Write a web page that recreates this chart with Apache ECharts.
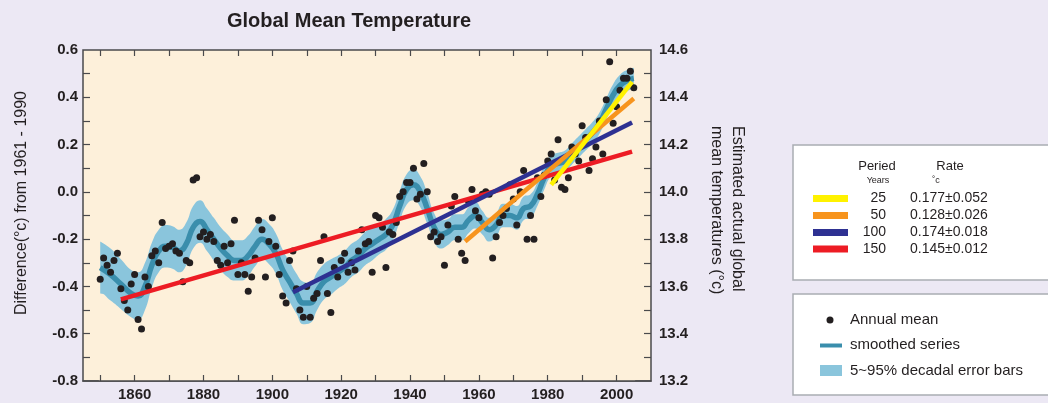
<!DOCTYPE html>
<html>
<head>
<meta charset="utf-8">
<script src="https://cdn.jsdelivr.net/npm/echarts@6/dist/echarts.min.js"></script>
<style>
html,body{margin:0;padding:0;background:#ece8f4;}
#c{width:1048px;height:403px;}
</style>
</head>
<body>
<div id="c"></div>
<script>
// ---- DATA ----
const firstYear = 1850;
const anomalies = [
 -0.37,-0.28,-0.31,-0.34,-0.29,-0.26,-0.41,-0.46,-0.50,-0.39,
 -0.35,-0.54,-0.58,-0.36,-0.40,-0.27,-0.25,-0.30,-0.13,-0.24,
 -0.23,-0.22,-0.25,-0.26,-0.38,-0.29,-0.30, 0.05, 0.06,-0.19,
 -0.17,-0.20,-0.18,-0.21,-0.29,-0.31,-0.23,-0.30,-0.22,-0.12,
 -0.35,-0.30,-0.35,-0.42,-0.36,-0.28,-0.12,-0.16,-0.36,-0.21,
 -0.11,-0.23,-0.35,-0.44,-0.47,-0.29,-0.25,-0.41,-0.50,-0.53,
 -0.40,-0.53,-0.45,-0.43,-0.29,-0.19,-0.43,-0.51,-0.32,-0.36,
 -0.29,-0.26,-0.34,-0.30,-0.33,-0.25,-0.16,-0.22,-0.21,-0.34,
 -0.10,-0.11,-0.15,-0.32,-0.17,-0.18,-0.13,-0.02, 0.00, 0.04,
  0.04, 0.10,-0.03,-0.01, 0.12, 0.00,-0.19,-0.17,-0.21,-0.19,
 -0.31,-0.14,-0.06,-0.02,-0.20,-0.26,-0.29,-0.04, 0.01,-0.08,
 -0.11,-0.01, 0.00,-0.01,-0.28,-0.19,-0.13,-0.10,-0.07, 0.03,
 -0.03,-0.14, 0.00, 0.09,-0.20,-0.10,-0.20, 0.06,-0.02, 0.07,
  0.13, 0.16, 0.05, 0.22, 0.02, 0.01, 0.06, 0.19, 0.16, 0.13,
  0.28, 0.23, 0.09, 0.14, 0.19, 0.30, 0.16, 0.39, 0.55, 0.29,
  0.36, 0.43, 0.48, 0.48, 0.51, 0.44
];
const smoothYears = [1850,1853,1856,1859,1861,1863,1865,1867,1869,1871,1873,1875,1877,1879,1881,1883,1885,1887,1889,1891,1893,1895,1897,1899,1901,1903,1905,1907,1909,1911,1913,1915,1917,1919,1921,1923,1925,1927,1929,1931,1933,1935,1937,1939,1941,1943,1945,1947,1949,1951,1953,1955,1957,1959,1961,1963,1965,1967,1969,1971,1973,1975,1977,1979,1981,1983,1985,1987,1989,1991,1993,1995,1997,1999,2001,2003,2005];
const smoothValues = [-0.32,-0.35,-0.39,-0.43,-0.44,-0.40,-0.31,-0.25,-0.23,-0.235,-0.25,-0.22,-0.15,-0.125,-0.16,-0.20,-0.24,-0.27,-0.29,-0.29,-0.27,-0.23,-0.20,-0.22,-0.26,-0.33,-0.38,-0.43,-0.47,-0.47,-0.42,-0.38,-0.36,-0.34,-0.32,-0.29,-0.27,-0.24,-0.22,-0.20,-0.18,-0.14,-0.06,0.01,0.03,0.00,-0.07,-0.15,-0.18,-0.17,-0.15,-0.15,-0.12,-0.10,-0.13,-0.16,-0.14,-0.10,-0.10,-0.11,-0.07,-0.06,-0.01,0.06,0.11,0.12,0.13,0.16,0.19,0.22,0.25,0.29,0.35,0.41,0.45,0.47,0.48];
const errorHalfWidth = [0.11,0.11,0.105,0.10,0.10,0.10,0.095,0.09,0.09,0.09,0.09,0.09,0.09,0.09,0.09,0.09,0.09,0.09,0.085,0.085,0.085,0.085,0.085,0.085,0.085,0.085,0.085,0.085,0.09,0.085,0.08,0.075,0.075,0.07,0.07,0.07,0.07,0.07,0.07,0.065,0.065,0.065,0.065,0.065,0.065,0.065,0.065,0.06,0.06,0.055,0.055,0.055,0.055,0.055,0.05,0.05,0.05,0.05,0.05,0.05,0.05,0.05,0.05,0.05,0.045,0.045,0.045,0.045,0.045,0.045,0.045,0.045,0.045,0.045,0.045,0.045,0.045];

const trendNames = ['25','50','100','150'];
const trendRates = ['0.177\u00B10.052','0.128\u00B10.026','0.174\u00B10.018','0.145\u00B10.012'];
const trendStartYear = [1981, 1956, 1906, 1856];
const trendEndYear = [2004.5, 2005, 2004.5, 2004.5];
const trendStartValue = [0.03, -0.21, -0.425, -0.455];
const trendEndValue = [0.465, 0.395, 0.293, 0.17];
const trendColors = ['#fff200','#f7941d','#2e3192','#ed1c24'];

const xTickValues = [1850,1860,1870,1880,1890,1900,1910,1920,1930,1940,1950,1960,1970,1980,1990,2000];
const xLabelValues = [1860,1880,1900,1920,1940,1960,1980,2000];
const yLeftLabels = [-0.8,-0.6,-0.4,-0.2,0.0,0.2,0.4,0.6];
const yLeftTicks = [-0.7,-0.6,-0.5,-0.4,-0.3,-0.2,-0.1,0.0,0.1,0.2,0.3,0.4,0.5];
const yRightLabels = [13.2,13.4,13.6,13.8,14.0,14.2,14.4,14.6];
const yRightTicks = [13.3,13.4,13.5,13.6,13.7,13.8,13.9,14.0,14.1,14.2,14.3,14.4,14.5];

// ---- STYLE ----
const FONT = '"Liberation Sans", Arial, Helvetica, sans-serif';
const INK = '#231f20';
const BAND = '#8ac5dc';
const SMOOTH = '#3a8eac';
const PLOT_BG = '#fdf0da';
const FRAME = '#4a4a4c';

const chart = echarts.init(document.getElementById('c'), null, {renderer:'canvas'});

const scatterData = anomalies.map((v,i)=>[firstYear+i, v]);
const smoothData = smoothYears.map((y,i)=>[y, smoothValues[i]]);
const upperData = smoothYears.map((y,i)=>[y, smoothValues[i]+errorHalfWidth[i]]);
const lowerData = smoothYears.map((y,i)=>[y, smoothValues[i]-errorHalfWidth[i]]);
// the cover under the band's lower edge reaches a hair past both ends so no anti-aliased seam shows
const n = lowerData.length;
const coverData = [[smoothYears[0]-0.4, lowerData[0][1]]].concat(lowerData, [[smoothYears[n-1]+0.4, lowerData[n-1][1]]]);

const trendSeries = [3,2,1,0].map(k=>({
  type:'line', z:6, symbol:'none', silent:true,
  data:[[trendStartYear[k],trendStartValue[k]],[trendEndYear[k],trendEndValue[k]]],
  lineStyle:{color:trendColors[k], width:4.5, cap:'butt'}
}));

function txt(x, y, text, font, align, extra){
  return Object.assign({type:'text', x:x, y:y, style:{text:text, font:font+' '+FONT, fill:INK, align:align, verticalAlign:'middle', textAlign:align, textVerticalAlign:'middle'}}, extra||{});
}

const graphic = [
  txt(349, 21, 'Global Mean Temperature', 'bold 20px', 'center'),
  txt(22, 203, 'Difference(\u00B0c) from 1961 - 1990', '16px', 'center', {rotation:Math.PI/2}),
  txt(737, 126, 'Estimated actual global', '16px', 'left', {rotation:-Math.PI/2}),
  txt(716, 126, 'mean temperatures (\u00B0c)', '16px', 'left', {rotation:-Math.PI/2}),
  {type:'rect', shape:{x:793, y:145, width:280, height:135}, style:{fill:'#ffffff', stroke:'#a9adb2', lineWidth:1.5}},
  txt(877, 166, 'Peried', '13px', 'center'),
  txt(950, 166, 'Rate', '13px', 'center'),
  txt(878, 181, 'Years', '9px', 'center'),
  txt(936, 181, '\u02DAc', '9px', 'center'),
  {type:'rect', shape:{x:793, y:294, width:280, height:101}, style:{fill:'#ffffff', stroke:'#a9adb2', lineWidth:1.5}},
  {type:'circle', shape:{cx:830, cy:320, r:3.5}, style:{fill:INK}},
  txt(850, 320, 'Annual mean', '15px', 'left'),
  {type:'rect', shape:{x:820, y:343.5, width:22, height:4}, style:{fill:SMOOTH}},
  txt(850, 345, 'smoothed series', '15px', 'left'),
  {type:'rect', shape:{x:820, y:365, width:22, height:11}, style:{fill:BAND}},
  txt(850, 371, '5~95% decadal error bars', '15px', 'left')
];
const rowY = [198.5, 215.5, 232.5, 249];
trendNames.forEach((nm,k)=>{
  graphic.push({type:'rect', shape:{x:813, y:rowY[k]-3.5, width:35, height:7}, style:{fill:trendColors[k]}});
  graphic.push(txt(886, rowY[k], nm, '14px', 'right'));
  graphic.push(txt(910, rowY[k], trendRates[k], '14px', 'left'));
});

const option = {
  backgroundColor:'#ece8f4',
  animation:false,
  grid:{left:83, top:50, right:397, bottom:22, show:true, backgroundColor:PLOT_BG, borderColor:FRAME, borderWidth:1.5, containLabel:false},
  xAxis:[
    {type:'value', min:1845, max:2010, position:'bottom', z:10,
     axisLine:{show:true, onZero:false, lineStyle:{color:FRAME, width:1.5}}, splitLine:{show:false},
     axisTick:{show:true, inside:true, length:6, customValues:xTickValues, lineStyle:{color:FRAME, width:1.2}},
     axisLabel:{customValues:xLabelValues, margin:6, color:INK, fontWeight:'bold', fontSize:15, fontFamily:FONT, formatter:v=>String(v)}},
    {type:'value', min:1845, max:2010, position:'top', z:10,
     axisLine:{show:false, onZero:false}, splitLine:{show:false},
     axisTick:{show:true, inside:true, length:6, customValues:xTickValues, lineStyle:{color:FRAME, width:1.2}},
     axisLabel:{show:false}}
  ],
  yAxis:[
    {type:'value', min:-0.8, max:0.6, interval:0.2, position:'left', z:10,
     axisLine:{show:false, onZero:false}, splitLine:{show:false},
     axisTick:{show:true, inside:true, length:7, customValues:yLeftTicks, lineStyle:{color:FRAME, width:1.2}},
     axisLabel:{customValues:yLeftLabels, margin:5, color:INK, fontWeight:'bold', fontSize:15, fontFamily:FONT, formatter:v=>v.toFixed(1)}},
    {type:'value', min:13.2, max:14.6, interval:0.2, position:'right', z:10,
     axisLine:{show:false, onZero:false}, splitLine:{show:false},
     axisTick:{show:true, inside:true, length:7, customValues:yRightTicks, lineStyle:{color:FRAME, width:1.2}},
     axisLabel:{customValues:yRightLabels, margin:8, color:INK, fontWeight:'bold', fontSize:15, fontFamily:FONT, formatter:v=>v.toFixed(1)}}
  ],
  series:[
    {type:'line', name:'bandUpper', z:2, symbol:'none', smooth:0.5, silent:true, data:upperData,
     lineStyle:{width:0, opacity:0}, areaStyle:{color:BAND, opacity:1, origin:'start'}},
    {type:'line', name:'bandCover', z:2, symbol:'none', smooth:0.5, silent:true, data:coverData,
     lineStyle:{width:0, opacity:0}, areaStyle:{color:PLOT_BG, opacity:1, origin:'start'}},
    {type:'line', name:'smoothed', z:3, symbol:'none', smooth:0.5, silent:true, data:smoothData, lineStyle:{color:SMOOTH, width:5.5}},
    {type:'scatter', name:'annual', z:4, symbolSize:7, silent:true, data:scatterData, itemStyle:{color:INK, opacity:1}},
    ...trendSeries
  ],
  graphic: graphic
};
chart.setOption(option);
</script>
</body>
</html>
